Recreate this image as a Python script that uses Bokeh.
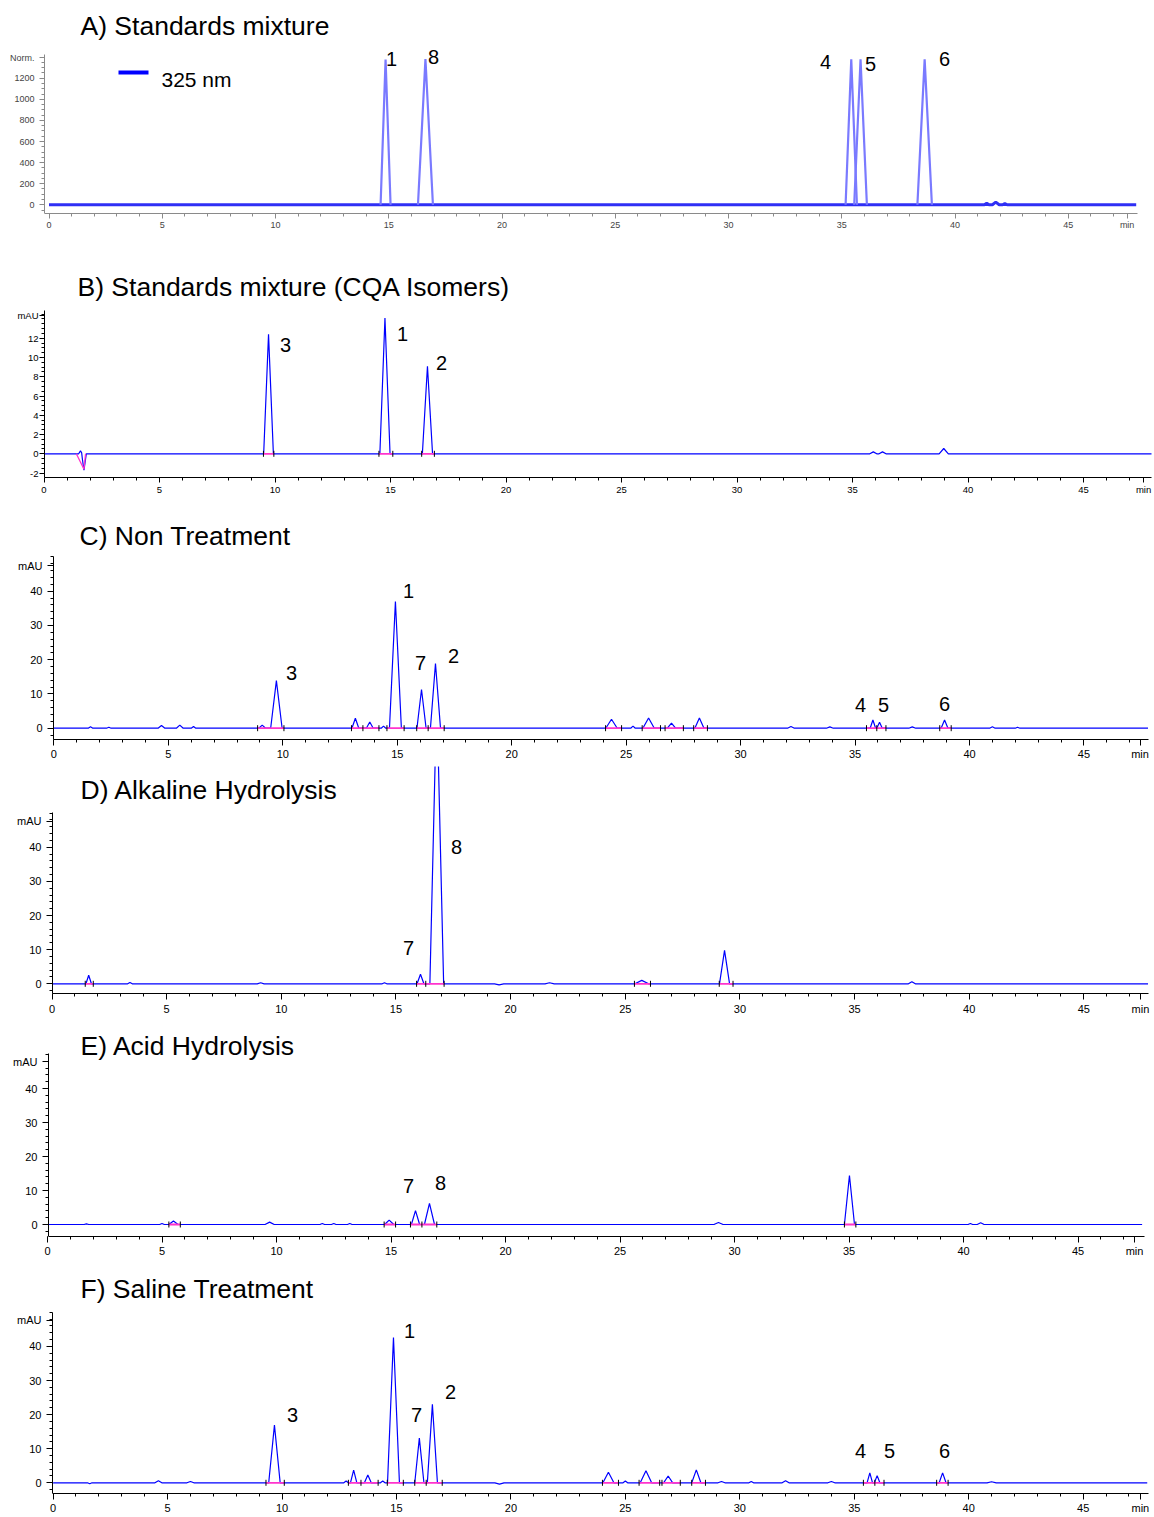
import numpy as np
from bokeh.plotting import figure
from bokeh.layouts import column
from bokeh.models import Range1d, FixedTicker
from bokeh.core.properties import value
from bokeh.embed import file_html
from bokeh.resources import INLINE

FONT = "Liberation Sans"

# ---------------- data (retention time [min], height, half base width [min]) ----------------
A_rt = [14.86, 16.62, 35.42, 35.83, 38.66]
A_h = [1378, 1382, 1380, 1378, 1380]
A_w = [0.22, 0.33, 0.25, 0.28, 0.32]
A_noise_rt = [41.4, 41.8, 42.2]
A_noise_h = [15, 25, 12]
A_noise_w = [0.1, 0.15, 0.1]

B_rt = [1.58, 1.73, 9.72, 14.76, 16.6, 35.9, 36.3, 38.95]
B_h = [0.3, -1.7, 12.4, 14.1, 9.1, 0.2, 0.2, 0.55]
B_w = [0.08, 0.1, 0.21, 0.22, 0.22, 0.15, 0.15, 0.2]
B_int = [(9.5, 9.95), (14.5, 15.1), (16.35, 16.9)]

C_rt = [1.6, 2.4, 4.7, 5.5, 6.1, 9.1, 9.72, 13.17, 13.8, 14.4, 14.92, 16.06, 16.67,
        24.36, 25.3, 25.98, 26.98, 28.2, 32.2, 33.9, 35.78, 36.07, 37.5, 38.91, 41.0, 42.1]
C_h = [0.4, 0.3, 0.8, 0.9, 0.5, 0.9, 13.9, 2.9, 1.8, 0.6, 37.0, 11.3, 18.9,
       2.6, 0.6, 3.0, 1.5, 3.0, 0.5, 0.4, 2.4, 1.75, 0.4, 2.4, 0.4, 0.3]
C_w = [0.1, 0.1, 0.15, 0.15, 0.1, 0.15, 0.25, 0.15, 0.15, 0.1, 0.26, 0.2, 0.22,
       0.25, 0.1, 0.25, 0.18, 0.2, 0.15, 0.15, 0.12, 0.12, 0.15, 0.15, 0.12, 0.1]
C_int = [(8.9, 10.05), (13.0, 13.5), (13.5, 14.2), (14.55, 15.3), (15.85, 16.35), (16.35, 17.05),
         (24.1, 24.8), (25.7, 26.5), (26.7, 27.5), (27.95, 28.55), (35.5, 35.95), (35.95, 36.35),
         (38.7, 39.2)]

D_rt = [1.6, 3.4, 9.1, 14.5, 16.07, 16.78, 19.5, 21.7, 25.72, 29.33, 37.5]
D_h = [2.5, 0.4, 0.3, 0.3, 2.8, 85, -0.3, 0.3, 1.0, 9.8, 0.6]
D_w = [0.12, 0.1, 0.15, 0.1, 0.15, 0.3, 0.2, 0.2, 0.3, 0.22, 0.15]
D_int = [(1.45, 1.8), (15.9, 16.3), (16.3, 17.1), (25.4, 26.1), (29.1, 29.7)]

E_rt = [1.7, 5.0, 5.5, 9.7, 12.0, 12.5, 13.2, 14.92, 16.07, 16.68, 29.3, 35.02, 40.3, 40.75]
E_h = [0.2, 0.3, 1.0, 0.7, 0.3, 0.3, 0.3, 1.3, 4.1, 6.2, 0.6, 14.4, 0.3, 0.5]
E_w = [0.1, 0.1, 0.2, 0.2, 0.1, 0.1, 0.1, 0.2, 0.18, 0.22, 0.2, 0.22, 0.1, 0.15]
E_int = [(5.3, 5.8), (14.7, 15.2), (15.85, 16.35), (16.35, 17.0), (34.8, 35.3)]

F_rt = [1.6, 4.6, 6.0, 9.67, 12.8, 13.13, 13.75, 14.4, 14.87, 16.0, 16.57, 19.5, 24.26, 25.0,
        25.9, 26.87, 28.1, 29.2, 30.5, 32.0, 34.0, 35.68, 36.0, 38.86, 41.0]
F_h = [-0.3, 0.6, 0.4, 16.9, 0.5, 3.7, 2.3, 0.5, 42.6, 13.1, 23.0, -0.4, 3.1, 0.5,
       3.5, 2.0, 3.8, 0.4, 0.4, 0.6, 0.4, 2.9, 2.1, 2.9, 0.3]
F_w = [0.1, 0.15, 0.15, 0.25, 0.1, 0.14, 0.15, 0.1, 0.26, 0.2, 0.22, 0.2, 0.24, 0.1,
       0.25, 0.2, 0.2, 0.15, 0.1, 0.15, 0.15, 0.12, 0.12, 0.15, 0.2]
F_int = [(9.3, 10.1), (12.9, 13.45), (13.45, 14.2), (14.6, 15.3), (15.8, 16.3), (16.3, 17.0),
         (24.0, 24.7), (25.6, 26.5), (26.6, 27.4), (27.9, 28.5), (35.4, 35.9), (35.9, 36.3),
         (38.6, 39.1)]

X_TICKS = [0, 5, 10, 15, 20, 25, 30, 35, 40, 45]
Y_TICKS_A = [0, 200, 400, 600, 800, 1000, 1200]
Y_TICKS_B = [-2, 0, 2, 4, 6, 8, 10, 12]
Y_TICKS_C = [0, 10, 20, 30, 40]

LEFT = 4  # common left edge of every plot frame (page px)


def trace(rts, hs, ws, x0, x1):
    pts = {x0, x1}
    for rt, w in zip(rts, ws):
        pts |= {rt - w, rt, rt + w}
    xs = np.array(sorted(pts))
    ys = np.zeros_like(xs)
    for rt, h, w in zip(rts, hs, ws):
        ys += h * np.clip(1 - np.abs(xs - rt) / w, 0, None)
    return xs, ys


def panel(g, title, yticks, ylab, ylab_pos, fs_tick, axis_color, label_color,
          minor_y, tick_out, y_stand, x_stand):
    sx, sy = g["sx"], g["sy"]
    X = lambda px: (px - g["x0"]) / sx
    Y = lambda py: (g["y0"] - py) / sy
    xs0, xs1 = X(LEFT), X(g["fr"])
    ys0, ys1 = Y(g["axis"]), Y(g["top"])
    p = figure(frame_width=g["fr"] - LEFT, frame_height=g["axis"] - g["top"],
               x_range=Range1d(xs0, xs1), y_range=Range1d(ys0, ys1),
               output_backend="svg", toolbar_location=None,
               min_border_left=LEFT, min_border_right=1152 - g["fr"],
               min_border_top=0, min_border_bottom=g["next"] - g["axis"])
    p.outline_line_color = None
    p.grid.visible = False
    p.background_fill_color = "white"
    p.border_fill_color = "white"

    # x axis
    xa = p.xaxis[0]
    xt = X_TICKS + [g["minpos"]]
    xa.ticker = FixedTicker(ticks=xt, minor_ticks=list(range(0, 48)))
    xa.major_label_overrides = {**{t: str(t) for t in X_TICKS}, g["minpos"]: "min"}
    xa.bounds = (X(g["fl"]), xs1)
    # y axis (drawn at the panel's own left position)
    ya = p.yaxis[0]
    yt = yticks + [ylab_pos]
    ya.ticker = FixedTicker(ticks=yt, minor_ticks=minor_y)
    ya.major_label_overrides = {**{t: str(t) for t in yticks}, ylab_pos: ylab}
    ya.bounds = (ys0, Y(g["ytop"]))
    ya.fixed_location = X(g["fl"])
    for ax in (xa, ya):
        ax.axis_line_color = axis_color
        ax.major_tick_line_color = axis_color
        ax.minor_tick_line_color = axis_color
        ax.major_tick_out = tick_out
        ax.major_tick_in = 0
        ax.minor_tick_out = 3
        ax.minor_tick_in = 0
        ax.major_label_text_font = FONT
        ax.major_label_text_font_size = fs_tick
        ax.major_label_text_color = label_color
    ya.major_label_standoff = y_stand
    xa.major_label_standoff = x_stand

    p.text(x=[X(g["title"][0])], y=[Y(g["title"][1])], text=[title],
           text_font=value(FONT), text_font_size=value("26.5px"),
           text_baseline="middle", text_align="left", text_color="black")
    return p, X, Y


def add_labels(p, X, Y, labs):
    p.text(x=[X(a[1]) for a in labs], y=[Y(a[2]) for a in labs], text=[a[0] for a in labs],
           text_font=value(FONT), text_font_size=value("20px"),
           text_baseline="middle", text_align="center", text_color="black")


def add_trace(p, sy, rts, hs, ws, ints, x1):
    xs, ys = trace(rts, hs, ws, 0.0, x1)
    p.line(xs, ys, line_color="#0000ff", line_width=1.2)
    if ints:
        p.segment(x0=[a for a, b in ints], y0=[0] * len(ints), x1=[b for a, b in ints], y1=[0] * len(ints),
                  line_color="#ff33cc", line_width=1.8)
        tl = 3.0 / sy
        ends = sorted({v for seg in ints for v in seg})
        p.segment(x0=ends, y0=[-tl] * len(ends), x1=ends, y1=[tl] * len(ends),
                  line_color="black", line_width=1)


layout_rows = []

# ---- A ----
gA = dict(top=0, fl=44, fr=1137, axis=213, x0=48.5, sx=22.65, y0=204.3, sy=0.1055, ytop=54,
          next=262, minpos=47.6, title=(80, 25))
pA, X, Y = panel(gA, "A) Standards mixture", Y_TICKS_A, "Norm.", 1396, "9px", "#8a8a8a", "#444444",
                 list(range(-50, 1450, 50)), 5, 5, 1)
bx, by = trace(A_noise_rt, A_noise_h, A_noise_w, 0.0, 48.0)
pA.line(bx, by, line_color="#2f2ff5", line_width=3)
for rt, h, w in zip(A_rt, A_h, A_w):
    pA.line([rt - w, rt - w * 0.35, rt, rt + w * 0.35, rt + w], [0, h * 0.65, h, h * 0.65, 0],
            line_color="#7a7aff", line_width=2.2)
pA.line([X(118), X(148)], [Y(72), Y(72)], line_color="#0000ff", line_width=4)
pA.text(x=[X(161)], y=[Y(79)], text=["325 nm"], text_font=value(FONT), text_font_size=value("21px"),
        text_baseline="middle", text_align="left", text_color="black")
add_labels(pA, X, Y, [("1", 391, 58), ("8", 433, 56), ("4", 825, 61), ("5", 870, 63), ("6", 944, 58)])
layout_rows.append(pA)

# ---- B ----
gB = dict(top=262, fl=44, fr=1151, axis=477, x0=43.5, sx=23.1, y0=453.3, sy=9.63, ytop=310,
          next=512, minpos=47.6, title=(77, 286))
pB, X, Y = panel(gB, "B) Standards mixture (CQA Isomers)", Y_TICKS_B, "mAU", 14.36, "9.5px", "black",
                 "black", [v / 2 for v in range(-5, 30)], 5, 1, 1)
add_trace(pB, gB["sy"], B_rt, B_h, B_w, B_int, 48.0)
pB.line([1.4, 1.73, 1.8], [0, -1.6, 0], line_color="#ff33cc", line_width=1.3)
add_labels(pB, X, Y, [("3", 285, 344), ("1", 402, 333), ("2", 441, 362)])
layout_rows.append(pB)

# ---- C ----
gC = dict(top=512, fl=53, fr=1148, axis=739, x0=53.4, sx=22.89, y0=727.7, sy=3.425, ytop=556,
          next=766, minpos=47.45, title=(79, 535))
pC, X, Y = panel(gC, "C) Non Treatment", Y_TICKS_C, "mAU", 47.4, "11px", "black", "black",
                 list(range(-2, 51, 2)), 6, 5, 2)
add_trace(pC, gC["sy"], C_rt, C_h, C_w, C_int, 47.8)
add_labels(pC, X, Y, [("3", 291, 672), ("1", 408, 590), ("7", 420, 662), ("2", 453, 655),
                      ("4", 860, 704), ("5", 883, 704), ("6", 944, 703)])
layout_rows.append(pC)

# ---- D ----
gD = dict(top=766, fl=52, fr=1148, axis=993, x0=51.5, sx=22.93, y0=983.3, sy=3.415, ytop=812,
          next=1022, minpos=47.47, title=(80, 789))
pD, X, Y = panel(gD, "D) Alkaline Hydrolysis", Y_TICKS_C, "mAU", 47.6, "11px", "black", "black",
                 list(range(-2, 51, 2)), 6, 5, 3)
add_trace(pD, gD["sy"], D_rt, D_h, D_w, D_int, 47.8)
add_labels(pD, X, Y, [("8", 456, 846), ("7", 408, 947)])
layout_rows.append(pD)

# ---- E ----
gE = dict(top=1022, fl=48, fr=1144, axis=1236, x0=47.0, sx=22.9, y0=1224, sy=3.4, ytop=1053,
          next=1265, minpos=47.47, title=(80, 1045))
pE, X, Y = panel(gE, "E) Acid Hydrolysis", Y_TICKS_C, "mAU", 47.9, "11px", "black", "black",
                 list(range(-2, 51, 2)), 6, 5, 2)
add_trace(pE, gE["sy"], E_rt, E_h, E_w, E_int, 47.8)
add_labels(pE, X, Y, [("7", 408, 1185), ("8", 440, 1182)])
layout_rows.append(pE)

# ---- F ----
gF = dict(top=1265, fl=52, fr=1148, axis=1493, x0=52.6, sx=22.89, y0=1482.3, sy=3.41, ytop=1312,
          next=1517, minpos=47.5, title=(80, 1288))
pF, X, Y = panel(gF, "F) Saline Treatment", Y_TICKS_C, "mAU", 47.6, "11px", "black", "black",
                 list(range(-2, 51, 2)), 6, 5, 2)
add_trace(pF, gF["sy"], F_rt, F_h, F_w, F_int, 47.8)
add_labels(pF, X, Y, [("1", 409, 1330), ("3", 292, 1414), ("7", 416, 1414), ("2", 450, 1391),
                      ("4", 860, 1450), ("5", 889, 1450), ("6", 944, 1450)])
layout_rows.append(pF)

layout = column(*layout_rows, spacing=0)
open("out.html", "w").write(file_html(layout, INLINE))
